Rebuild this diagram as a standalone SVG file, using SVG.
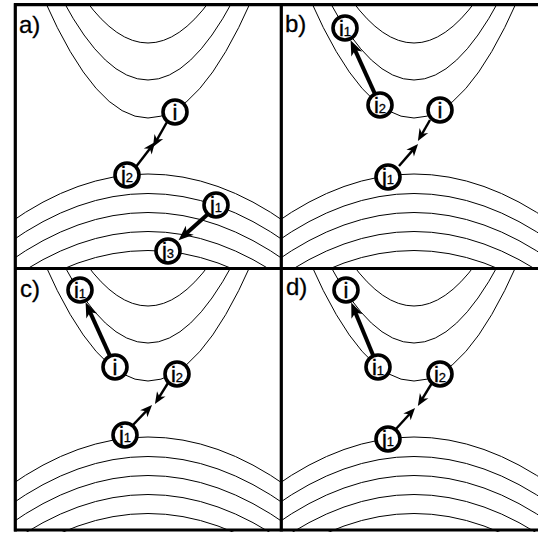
<svg xmlns="http://www.w3.org/2000/svg" xmlns:xlink="http://www.w3.org/1999/xlink" width="538" height="533" viewBox="0 0 538 533">
<style>
.c{fill:none;stroke:#000;stroke-width:1}
.frame{fill:none;stroke:#000;stroke-width:3.2}
.n circle{fill:#fff;stroke:#000;stroke-width:3.6}
.n text{font-family:"Liberation Sans",Arial,sans-serif;font-size:22px;text-anchor:middle;fill:#000;stroke:#000;stroke-width:0.4}
.s{font-size:13px;stroke-width:0.3}
.lbl{font-family:"Liberation Sans",Arial,sans-serif;font-size:24px;fill:#000;stroke:#000;stroke-width:0.3}
.a{fill:none;stroke:#000;stroke-width:2.4;marker-end:url(#ah)}
.t{fill:none;stroke:#000;stroke-width:4;marker-end:url(#ahb)}
</style>
<defs>
<clipPath id="cp"><rect x="-133" y="0" width="266" height="264"/></clipPath>
<g id="field" clip-path="url(#cp)">
<path class="c" d="M-62.5,-5 Q0,81 62.5,-5"/>
<path class="c" d="M-85.3,-5 Q0,155 85.3,-5"/>
<path class="c" d="M-103.6,-5 Q0,231 103.6,-5"/>
<path class="c" d="M-140,219 Q0,119 140,219"/>
<path class="c" d="M-140,238.5 Q0,138.5 140,238.5"/>
<path class="c" d="M-140,257.5 Q0,157.5 140,257.5"/>
<path class="c" d="M-140,276.5 Q0,176.5 140,276.5"/>
<path class="c" d="M-140,295.5 Q0,195.5 140,295.5"/>
</g>
<marker id="ah" markerUnits="userSpaceOnUse" viewBox="-7 -6 14 12" refX="0" refY="0" markerWidth="14" markerHeight="12" orient="auto"><path d="M6,0 L-6,-5 L-2.5,0 L-6,5 Z" fill="#000"/></marker>
<marker id="ahb" markerUnits="userSpaceOnUse" viewBox="-8 -7 17 14" refX="0" refY="0" markerWidth="17" markerHeight="14" orient="auto"><path d="M8,0 L-7,-6 L-3,0 L-7,6 Z" fill="#000"/></marker>
</defs>
<g id="contours">
<use xlink:href="#field" transform="translate(148,5)"/>
<use xlink:href="#field" transform="translate(414,5)"/>
<use xlink:href="#field" transform="translate(148,268)"/>
<use xlink:href="#field" transform="translate(414,268)"/>
</g>
<g id="frame">
<line class="frame" x1="14" y1="4.7" x2="538" y2="4.7"/>
<line class="frame" x1="15.3" y1="3.2" x2="15.3" y2="531.5"/>
<line class="frame" x1="281.3" y1="3.2" x2="281.3" y2="531.5"/>
<line class="frame" x1="14" y1="268.5" x2="538" y2="268.5"/>
<line class="frame" x1="14" y1="530" x2="538" y2="530"/>
</g>
<g id="labels">
<text class="lbl" x="19" y="33">a)</text>
<text class="lbl" x="285" y="32">b)</text>
<text class="lbl" x="20" y="297">c)</text>
<text class="lbl" x="286" y="295">d)</text>
</g>
<g id="connectors">
<line class="a" x1="167" y1="122" x2="155.9" y2="141.7"/>
<line class="a" x1="135" y1="168" x2="151.4" y2="146.8"/>
<line class="t" x1="208" y1="214" x2="184.5" y2="235"/>
<line class="a" x1="430" y1="120" x2="420.9" y2="135.8"/>
<line class="a" x1="399" y1="166" x2="414.1" y2="148.6"/>
<line class="t" x1="374.6" y1="93.2" x2="353.9" y2="47.6"/>
<line class="t" x1="109.6" y1="355.2" x2="88.9" y2="309.6"/>
<line class="a" x1="168" y1="383" x2="158.1" y2="398.9"/>
<line class="a" x1="132" y1="426" x2="147.9" y2="409.4"/>
<line class="t" x1="373" y1="355" x2="354.3" y2="309.9"/>
<line class="a" x1="432" y1="383" x2="421" y2="400.8"/>
<line class="a" x1="395" y1="430" x2="411" y2="412.5"/>
</g>
<g id="node-a-i" class="n"><circle cx="175" cy="112" r="12"/><text x="175" y="120">i</text></g>
<g id="node-a-j2" class="n"><circle cx="127" cy="175" r="12"/><text x="127" y="182">j<tspan class="s">2</tspan></text></g>
<g id="node-a-j1" class="n"><circle cx="216" cy="205" r="12"/><text x="216" y="212">j<tspan class="s">1</tspan></text></g>
<g id="node-a-j3" class="n"><circle cx="168" cy="251" r="12"/><text x="168" y="258">j<tspan class="s">3</tspan></text></g>
<g id="node-b-i1" class="n"><circle cx="345" cy="28" r="12"/><text x="345" y="36">i<tspan class="s">1</tspan></text></g>
<g id="node-b-i2" class="n"><circle cx="380" cy="105" r="12"/><text x="380" y="113">i<tspan class="s">2</tspan></text></g>
<g id="node-b-i" class="n"><circle cx="440" cy="110" r="12"/><text x="440" y="118">i</text></g>
<g id="node-b-j1" class="n"><circle cx="388" cy="177" r="12"/><text x="388" y="184">j<tspan class="s">1</tspan></text></g>
<g id="node-c-i1" class="n"><circle cx="80" cy="290" r="12"/><text x="80" y="298">i<tspan class="s">1</tspan></text></g>
<g id="node-c-i" class="n"><circle cx="115" cy="367" r="12"/><text x="115" y="375">i</text></g>
<g id="node-c-i2" class="n"><circle cx="177" cy="374" r="12"/><text x="177" y="382">i<tspan class="s">2</tspan></text></g>
<g id="node-c-j1" class="n"><circle cx="125" cy="435" r="12"/><text x="125" y="442">j<tspan class="s">1</tspan></text></g>
<g id="node-d-i" class="n"><circle cx="346" cy="290" r="12"/><text x="346" y="298">i</text></g>
<g id="node-d-i1" class="n"><circle cx="378" cy="367" r="12"/><text x="378" y="375">i<tspan class="s">1</tspan></text></g>
<g id="node-d-i2" class="n"><circle cx="440" cy="374" r="12"/><text x="440" y="382">i<tspan class="s">2</tspan></text></g>
<g id="node-d-j1" class="n"><circle cx="388" cy="439" r="12"/><text x="388" y="446">j<tspan class="s">1</tspan></text></g>
</svg>
